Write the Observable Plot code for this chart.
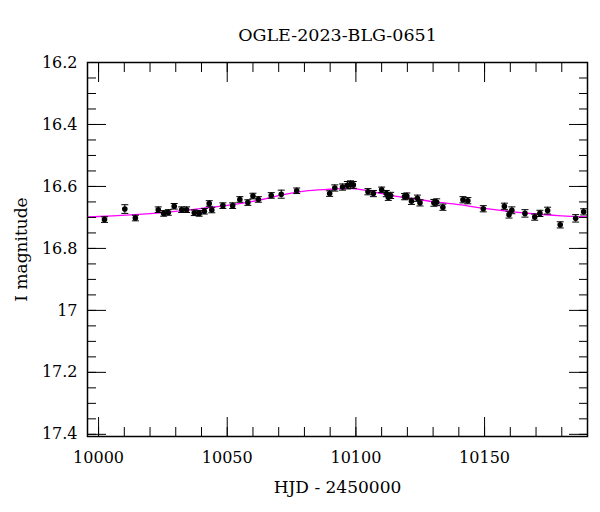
<!DOCTYPE html>
<html>
<head>
<meta charset="utf-8">
<script src="https://cdn.jsdelivr.net/npm/d3@7"></script>
<script src="https://cdn.jsdelivr.net/npm/@observablehq/plot@0.6"></script>
<style>
  html, body { margin: 0; padding: 0; background: white; }
</style>
</head>
<body>
<div id="chart"></div>
<script>
// Observations (HJD - 2450000, I magnitude, error)
const hjd = [10002.3, 10010.2, 10014.3, 10023.2, 10025.3, 10027.1, 10029.4, 10032.3, 10034.2, 10037.2,
  10039.1, 10041.1, 10043.0, 10044.0, 10048.3, 10052.1, 10054.9, 10058.0, 10060.0, 10062.1,
  10067.1, 10071.0, 10077.0, 10089.8, 10091.8, 10094.8, 10096.7, 10097.9, 10099.0, 10104.7,
  10106.8, 10110.0, 10111.8, 10112.6, 10113.5, 10118.9, 10119.8, 10121.6, 10123.9, 10124.9,
  10130.3, 10131.4, 10133.8, 10141.6, 10143.5, 10149.5, 10157.7, 10159.5, 10160.6, 10165.7,
  10169.5, 10171.5, 10174.5, 10179.4, 10185.4, 10188.5];
const imag = [16.707, 16.673, 16.702, 16.675, 16.687, 16.684, 16.664, 16.675, 16.675, 16.685,
  16.687, 16.680, 16.655, 16.676, 16.662, 16.662, 16.642, 16.652, 16.631, 16.642,
  16.629, 16.625, 16.614, 16.623, 16.605, 16.602, 16.596, 16.594, 16.595, 16.617,
  16.623, 16.611, 16.623, 16.635, 16.629, 16.633, 16.631, 16.648, 16.638, 16.653,
  16.653, 16.651, 16.667, 16.643, 16.646, 16.672, 16.664, 16.691, 16.677, 16.687,
  16.699, 16.687, 16.678, 16.724, 16.703, 16.682];
const ierr = [0.009, 0.014, 0.009, 0.009, 0.009, 0.009, 0.009, 0.009, 0.009, 0.009,
  0.009, 0.009, 0.009, 0.009, 0.009, 0.009, 0.009, 0.009, 0.009, 0.009,
  0.009, 0.013, 0.009, 0.009, 0.010, 0.010, 0.012, 0.012, 0.011, 0.010,
  0.010, 0.009, 0.010, 0.010, 0.010, 0.010, 0.010, 0.010, 0.010, 0.010,
  0.011, 0.011, 0.010, 0.010, 0.010, 0.010, 0.010, 0.011, 0.011, 0.012,
  0.010, 0.010, 0.011, 0.010, 0.012, 0.010];

// Model curve
const modelT = [9995, 10000, 10020, 10040, 10050, 10060, 10070, 10080, 10090, 10097,
  10105, 10113, 10120, 10130, 10140, 10150, 10160, 10170, 10180, 10191];
const modelMag = [16.698, 16.697, 16.688, 16.671, 16.661, 16.648, 16.630, 16.615, 16.609, 16.606,
  16.614, 16.628, 16.637, 16.649, 16.659, 16.671, 16.681, 16.689, 16.695, 16.699];

// Axes
const xMajorTicks = [10000, 10050, 10100, 10150];
const yMajorTicks = [16.2, 16.4, 16.6, 16.8, 17, 17.2, 17.4];
const xMinorTicks = d3.range(10000, 10191, 10);
const yMinorTicks = d3.range(0, 25).map(i => +(16.2 + i * 0.05).toFixed(2));

const titleText = "OGLE-2023-BLG-0651";
const xLabel = "HJD - 2450000";
const yLabel = "I magnitude";

const obs = hjd.map((t, i) => ({t, m: imag[i], e: ierr[i]}));
const model = modelT.map((t, i) => ({t, m: modelMag[i]}));

const capSymbol = {
  draw(context, size) {
    const r = Math.sqrt(size / Math.PI);
    context.moveTo(-r, 0);
    context.lineTo(r, 0);
  }
};

const MAJ = 19, MIN = 9;
const tickStyle = {stroke: "black", strokeWidth: 1, text: null, label: null};

const chart = Plot.plot({
  width: 600,
  height: 512,
  marginLeft: 87,
  marginRight: 13,
  marginTop: 62,
  marginBottom: 76,
  style: {fontFamily: "DejaVu Serif", fontSize: "16px", background: "white", color: "black"},
  x: {domain: [9995.7, 10190], label: null},
  y: {domain: [16.2, 17.407], reverse: true, label: null},
  marks: [
    Plot.line(model, {x: "t", y: "m", stroke: "#ff00ff", strokeWidth: 1.3, curve: "natural", clip: true}),
    Plot.ruleX(obs, {x: "t", y1: d => d.m - d.e, y2: d => d.m + d.e, stroke: "black", strokeWidth: 1}),
    Plot.dot(obs, {x: "t", y: d => d.m - d.e, symbol: capSymbol, r: 3.5, stroke: "black", fill: "none", strokeWidth: 1}),
    Plot.dot(obs, {x: "t", y: d => d.m + d.e, symbol: capSymbol, r: 3.5, stroke: "black", fill: "none", strokeWidth: 1}),
    Plot.dot(obs, {x: "t", y: "m", r: 2.8, fill: "black"}),
    // ticks (inward on all four sides)
    Plot.axisX(xMajorTicks, {anchor: "bottom", tickSize: -MAJ, ...tickStyle}),
    Plot.axisX(xMinorTicks, {anchor: "bottom", tickSize: -MIN, ...tickStyle}),
    Plot.axisX(xMajorTicks, {anchor: "top", tickSize: -MAJ, ...tickStyle}),
    Plot.axisX(xMinorTicks, {anchor: "top", tickSize: -MIN, ...tickStyle}),
    Plot.axisY(yMajorTicks, {anchor: "left", tickSize: -MAJ, ...tickStyle}),
    Plot.axisY(yMinorTicks, {anchor: "left", tickSize: -MIN, ...tickStyle}),
    Plot.axisY(yMajorTicks, {anchor: "right", tickSize: -MAJ, ...tickStyle}),
    Plot.axisY(yMinorTicks, {anchor: "right", tickSize: -MIN, ...tickStyle}),
    // tick labels
    Plot.axisX(xMajorTicks, {anchor: "bottom", tickSize: 0, tickPadding: 15, fontSize: 16, tickFormat: d => String(d), label: null}),
    Plot.axisY(yMajorTicks, {anchor: "left", tickSize: 0, tickPadding: 10, fontSize: 16, tickFormat: d => String(d), label: null}),
    Plot.frame({stroke: "black", strokeWidth: 1.5}),
    // titles
    Plot.text([titleText], {frameAnchor: "top", dy: -27, fontSize: 17.5, lineAnchor: "middle", textAnchor: "middle", fill: "black"}),
    Plot.text([xLabel], {frameAnchor: "bottom", dy: 51, fontSize: 17, lineAnchor: "middle", textAnchor: "middle", fill: "black"}),
    Plot.text([yLabel], {frameAnchor: "left", dx: -66, rotate: -90, fontSize: 17, lineAnchor: "middle", textAnchor: "middle", fill: "black"})
  ]
});
document.getElementById("chart").appendChild(chart);
</script>
</body>
</html>
